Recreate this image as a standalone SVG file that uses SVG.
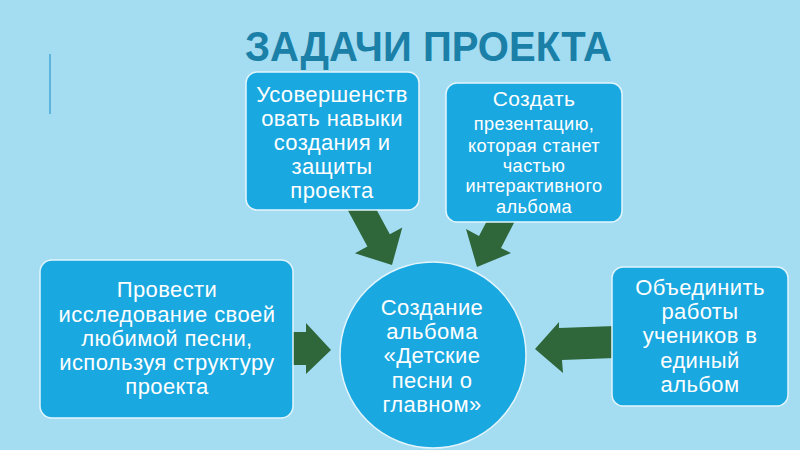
<svg xmlns="http://www.w3.org/2000/svg" width="800" height="450" viewBox="0 0 800 450">
  <style>
    .bg { fill: #a4ddf2; }
    .box { fill: #1aa8e0; stroke: #e3f5fc; stroke-width: 1.5; }
    .arrow { fill: #2f673b; }
    .t { font-family: "Liberation Sans", Arial, sans-serif; fill: #ffffff; text-anchor: middle; letter-spacing: 0.4px; }
    .big { font-size: 22px; }
    .mid { font-size: 21px; }
    .small { font-size: 18.2px; }
    .title { font-family: "Liberation Sans", Arial, sans-serif; font-weight: bold; font-size: 43px; fill: #1a80a8; }
  </style>
  <rect class="bg" x="0" y="0" width="800" height="450"/>
  <line x1="50" y1="54" x2="50" y2="114" stroke="#5bb5dd" stroke-width="2"/>
  <text class="title" x="245" y="61" textLength="367" lengthAdjust="spacingAndGlyphs">ЗАДАЧИ ПРОЕКТА</text>

  <g id="connectors">
    <polygon class="arrow" points="345,205 374,205 389.8,234.3 402.3,227.5 392,265 354.9,253.3 367.4,246.5"/>
    <polygon class="arrow" points="517,217 489,217 479,236 466,229 477,267 511,253 501,248"/>
    <polygon class="arrow" points="288,332 306,332 306,323 331,350 306,374 306,365 288,365"/>
    <polygon class="arrow" points="535,349 559,322 559,328 615,326 615,358 562,360 563,373"/>
  </g>

  <g id="node-skills">
    <rect class="box" x="246" y="72" width="173" height="138" rx="11"/>
    <text class="t big" x="332" y="102">Усовершенств</text>
    <text class="t big" x="332" y="126">овать навыки</text>
    <text class="t big" x="332" y="150">создания и</text>
    <text class="t big" x="332" y="174">защиты</text>
    <text class="t big" x="332" y="198">проекта</text>
  </g>

  <g id="node-presentation">
    <rect class="box" x="446" y="83" width="176" height="139" rx="11"/>
    <text class="t mid" x="534" y="106">Создать</text>
    <text class="t small" x="534" y="130">презентацию,</text>
    <text class="t small" x="534" y="152">которая станет</text>
    <text class="t small" x="534" y="172">частью</text>
    <text class="t small" x="534" y="192">интерактивного</text>
    <text class="t small" x="534" y="213">альбома</text>
  </g>

  <g id="node-research">
    <rect class="box" x="40" y="260" width="253" height="158" rx="12"/>
    <text class="t big" x="167" y="297">Провести</text>
    <text class="t big" x="167" y="322">исследование своей</text>
    <text class="t big" x="167" y="346">любимой песни,</text>
    <text class="t big" x="167" y="370">используя структуру</text>
    <text class="t big" x="167" y="394">проекта</text>
  </g>

  <g id="node-album">
    <circle class="box" cx="433" cy="355" r="93"/>
    <text class="t big" x="432" y="315">Создание</text>
    <text class="t big" x="432" y="339">альбома</text>
    <text class="t big" x="432" y="363">«Детские</text>
    <text class="t big" x="432" y="388">песни о</text>
    <text class="t big" x="432" y="412">главном»</text>
  </g>

  <g id="node-combine">
    <rect class="box" x="612" y="267" width="176" height="139" rx="11"/>
    <text class="t big" x="700" y="295">Объединить</text>
    <text class="t big" x="700" y="319">работы</text>
    <text class="t big" x="700" y="343">учеников в</text>
    <text class="t big" x="700" y="368">единый</text>
    <text class="t big" x="700" y="392">альбом</text>
  </g>
</svg>
